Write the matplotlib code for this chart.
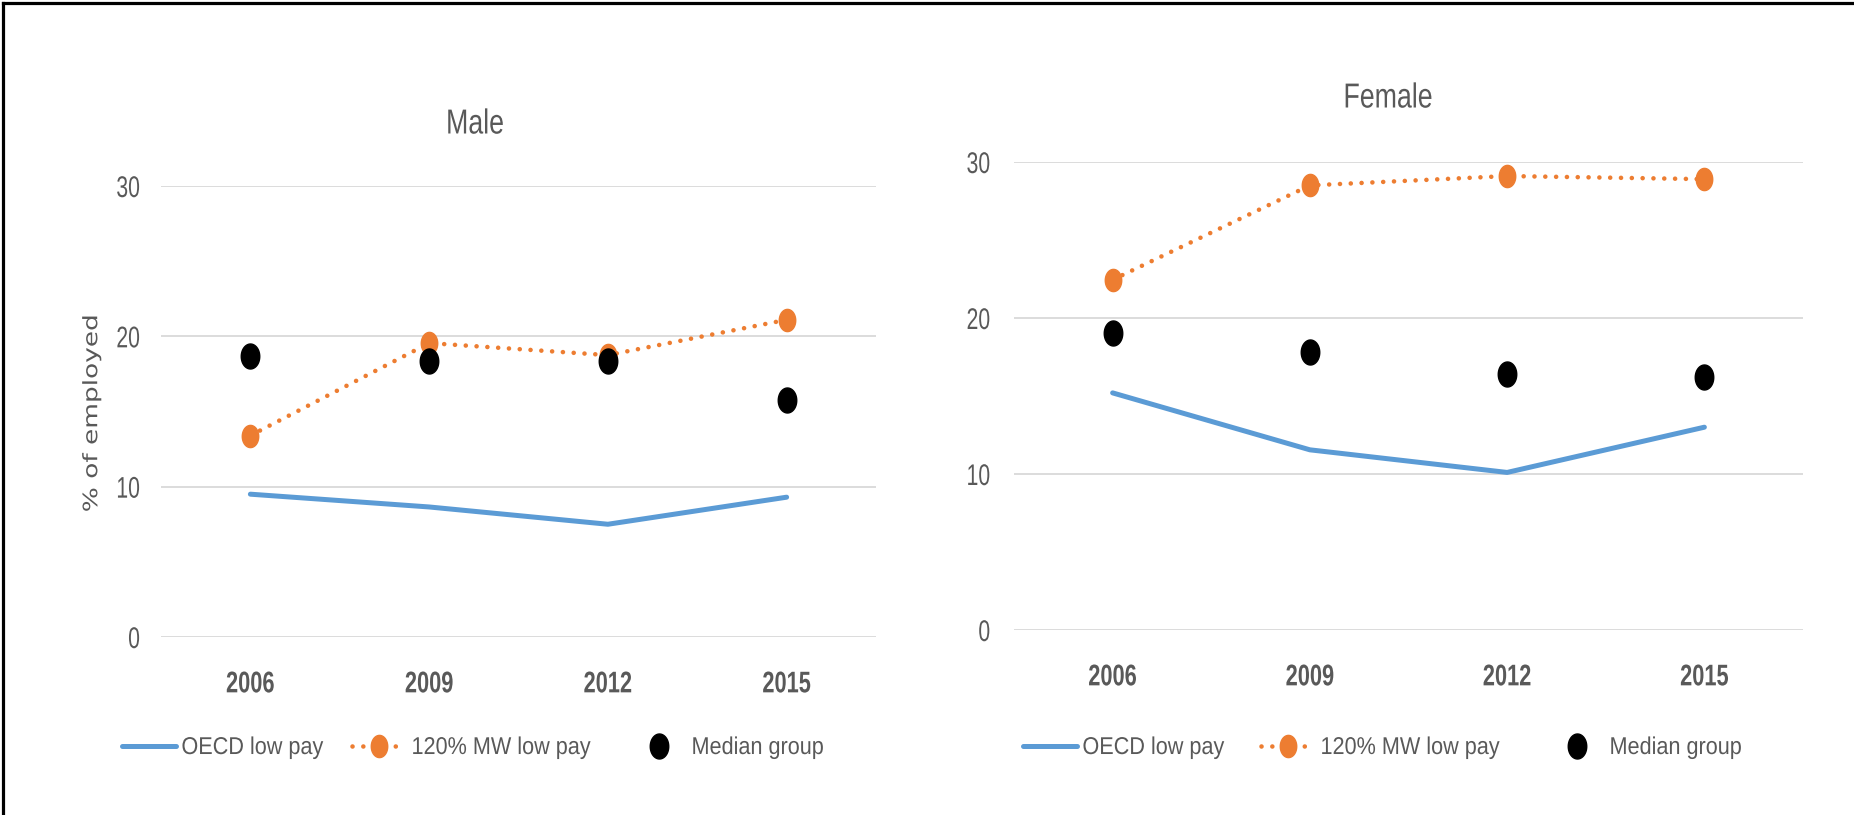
import numpy as np
import matplotlib
matplotlib.use("Agg")
import matplotlib.pyplot as plt
from matplotlib.path import Path
from matplotlib.lines import Line2D
from matplotlib.transforms import Affine2D
from matplotlib import patheffects

plt.rcParams['font.family'] = ['Liberation Sans', 'DejaVu Sans']

years = ["2006", "2009", "2012", "2015"]
male_oecd = [9.5, 8.65, 7.5, 9.3]
male_mw = [13.4, 19.55, 18.75, 21.1]
male_median = [18.7, 18.35, 18.35, 15.75]
female_oecd = [15.2, 11.55, 10.1, 13.0]
female_mw = [22.45, 28.5, 29.1, 28.9]
female_median = [19.05, 17.85, 16.4, 16.2]
yticks = [0, 10, 20, 30]
series_names = ["OECD low pay", "120% MW low pay", "Median group"]

BLUE = "#5B9BD5"
ORANGE = "#ED7D31"
GRAY = "#595959"
GRID = "#D9D9D9"

W, H = 1854, 815
fig = plt.figure(figsize=(W / 100, H / 100), dpi=100)

th = np.linspace(0, 2 * np.pi, 64)
ell = Path(np.column_stack([0.74 * np.cos(th), np.sin(th)]), closed=True)


class Squeeze(patheffects.AbstractPathEffect):
    """Draw text narrower (horizontal scale) around an anchor."""

    def __init__(self, sx=0.8, anchor='center'):
        super().__init__()
        self.sx = sx
        self.anchor = anchor

    def draw_path(self, renderer, gc, tpath, affine, rgbFace=None):
        ext = tpath.get_extents(affine)
        if self.anchor == 'left':
            x0 = ext.x0
        elif self.anchor == 'right':
            x0 = ext.x1
        else:
            x0 = 0.5 * (ext.x0 + ext.x1)
        new = affine + Affine2D().translate(-x0, 0).scale(self.sx, 1.0).translate(x0, 0)
        renderer.draw_path(gc, tpath, new, rgbFace)


def fx(px):
    return px / W


def fy(py):
    return 1 - py / H


def panel(rect, oecd, mw, med, title, title_xy, ypad, leg_xs, legy):
    ax = fig.add_axes(rect)
    x = np.arange(len(years))
    l1, = ax.plot(x, oecd, color=BLUE, lw=3.6, solid_capstyle='round', label=series_names[0], clip_on=False)
    l2, = ax.plot(x, mw, color=ORANGE, lw=3.3, linestyle=(0, (0.01, 2.35)), dash_capstyle='round',
                  marker=ell, markersize=16, markerfacecolor=ORANGE, markeredgecolor=ORANGE,
                  label=series_names[1], clip_on=False)
    l3, = ax.plot(x, med, linestyle='none', marker=ell, markersize=18, color='black',
                  label=series_names[2], clip_on=False)
    ax.set_xlim(-0.5, len(years) - 0.5)
    ax.set_ylim(0, 30)
    ax.set_yticks(yticks)
    ax.set_xticks(x)
    ax.set_xticklabels(years, fontweight='bold')
    ax.grid(axis='y', color=GRID, lw=1.3)
    ax.set_axisbelow(True)
    for s in ax.spines.values():
        s.set_visible(False)
    ax.tick_params(axis='y', length=0, pad=ypad, labelsize=21.5, labelcolor=GRAY)
    ax.tick_params(axis='x', length=0, pad=24, labelsize=21.5, labelcolor=GRAY)
    for t in ax.get_yticklabels():
        t.set_path_effects([Squeeze(0.71, 'right')])
    for t in ax.get_xticklabels():
        t.set_path_effects([Squeeze(0.73, 'center')])
    fig.text(fx(title_xy[0]), fy(title_xy[1]), title, ha='center', va='center', fontsize=25,
             color=GRAY, path_effects=[Squeeze(0.77, 'center')])
    for h, lx in zip([l1, l2, l3], leg_xs):
        leg = fig.legend(handles=[h], loc='center left',
                         bbox_to_anchor=(fx(lx), fy(legy)), bbox_transform=fig.transFigure,
                         frameon=False, fontsize=17.5, handlelength=2.22, handletextpad=0.22,
                         borderpad=0, borderaxespad=0)
        for t in leg.get_texts():
            t.set_color(GRAY)
            t.set_path_effects([Squeeze(0.89, 'left')])
    return ax


panel([fx(161), fy(637), fx(876) - fx(161), fy(186) - fy(637)],
      male_oecd, male_mw, male_median, "Male", (475, 124), 15, (122, 352, 632), 748)
panel([fx(1014), fy(630), fx(1803) - fx(1014), fy(162) - fy(630)],
      female_oecd, female_mw, female_median, "Female", (1388, 98), 17, (1023, 1261, 1550), 748)

fig.text(fx(92), fy(413), "% of employed", rotation=90, ha='center', va='center',
         fontsize=19, color=GRAY, family=['DejaVu Sans'], path_effects=[Squeeze(0.75, 'center')])

# outer frame (top and left edges)
fig.add_artist(Line2D([fx(3), fx(3)], [0, fy(3)], color='black', lw=2.3, transform=fig.transFigure))
fig.add_artist(Line2D([fx(3), 1], [fy(3), fy(3)], color='black', lw=2.3, transform=fig.transFigure))

fig.savefig("out.png", dpi=100, facecolor='white')
